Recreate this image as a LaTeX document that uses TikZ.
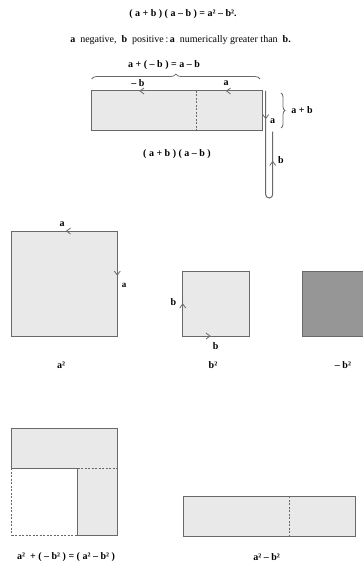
\documentclass[tikz,border=0pt]{standalone}
\usepackage{fontspec}
\setmainfont{Liberation Serif}
\usetikzlibrary{decorations.pathreplacing}
\definecolor{edge}{RGB}{105,105,105}
\definecolor{lite}{RGB}{233,233,233}
\definecolor{dark}{RGB}{150,150,150}
\tikzset{
  box/.style={draw=edge, line width=1pt, fill=lite},
  darkbox/.style={draw=edge, line width=1pt, fill=dark},
  ln/.style={draw=edge, line width=1pt},
  dsh/.style={draw=edge, line width=0.8pt, dash pattern=on 2pt off 1.5pt},
  chev/.style={draw=edge, line width=0.8pt},
  lbl/.style={inner sep=0pt, font=\fontsize{10}{12}\selectfont\bfseries},
  txt/.style={inner sep=0pt, font=\fontsize{10}{12}\selectfont}
}
\begin{document}
\begin{tikzpicture}[x=1pt,y=-1pt]
\useasboundingbox (0,0) rectangle (362,564);
% title
\node[lbl] (t1) at (183,14.5) {( a + b ) ( a – b ) = a² – b².};
\node[txt] (t2) at (180.5,40) {\textbf{a}\ \ negative,\ \ \textbf{b}\ \ positive\,:\,\textbf{a}\ \ numerically greater than\ \ \textbf{b.}};
% top rectangle
\draw[box] (91,91) rectangle (262.7,131);
\draw[dsh] (196.7,91) -- (196.7,131);
\draw[ln, line width=0.8pt, decorate, decoration={brace, amplitude=5pt}] (91.7,79) -- (260,79);
\node[lbl] (bl) at (164,65) {a + ( – b ) = a – b};
\node[lbl] (mb) at (138,83) {– b};
\node[lbl] (ma) at (226,83) {a};
\draw[chev] (144,88) -- (140,91) -- (144,94);
\draw[chev] (230.5,88) -- (226.5,91) -- (230.5,94);
% U path
\draw[ln] (265.7,91) -- (265.7,194.5) arc[start angle=180, end angle=0, radius=3.5] -- (272.7,131.7);
\draw[chev] (262.7,114.5) -- (265.7,118.5) -- (268.7,114.5);
\draw[chev] (269.7,165.5) -- (272.7,161.5) -- (275.7,165.5);
\node[lbl] (ra) at (272.5,121) {a};
\node[lbl] (rb) at (281,160) {b};
\draw[ln, line width=0.8pt, decorate, decoration={brace, amplitude=4pt}] (281,93) -- (281,128);
\node[lbl] (apb) at (302,110) {a + b};
\node[lbl] (prod) at (177,154) {( a + b ) ( a – b )};
% squares
\draw[box] (11.7,231) rectangle (117.3,336);
\draw[chev] (70.5,228) -- (66.5,231) -- (70.5,234);
\draw[chev] (114.3,271) -- (117.3,275) -- (120.3,271);
\node[lbl] (sa1) at (62,224) {a};
\node[txt, font=\fontsize{9}{10}\selectfont\bfseries] (sa2) at (124,285) {a};
\draw[box] (182.7,271) rectangle (249.3,336);
\draw[chev] (179.7,308) -- (182.7,304) -- (185.7,308);
\draw[chev] (206,333) -- (210,336) -- (206,339);
\node[lbl] (sb1) at (173.5,302) {b};
\node[lbl] (sb2) at (215.7,346.5) {b};
\draw[darkbox] (302.3,271) rectangle (370,336);
\node[lbl] (la2) at (61,365) {a²};
\node[lbl] (lb2) at (213,365) {b²};
\node[lbl] (lmb2) at (343,365) {– b²};
% L shape
\fill[lite] (11.7,428.3) rectangle (117.3,468.3);
\fill[lite] (77.7,468.3) rectangle (117.3,535);
\draw[ln] (11.7,468.3) -- (11.7,428.3) -- (117.3,428.3) -- (117.3,535) -- (77.7,535) -- (77.7,468.3) -- (11.7,468.3);
\draw[dsh] (77.7,468.3) -- (117.3,468.3);
\draw[dsh] (11.7,468.3) -- (11.7,535) -- (77.7,535);
\node[lbl] (eq) at (66,556.7) {a²\ \ + ( – b² ) = ( a² – b² )};
% bottom rectangle
\draw[box] (183.3,496) rectangle (355,536);
\draw[dsh] (289,496) -- (289,536);
\node[lbl] (res) at (266.7,556.7) {a² – b²};
\end{tikzpicture}
\end{document}
